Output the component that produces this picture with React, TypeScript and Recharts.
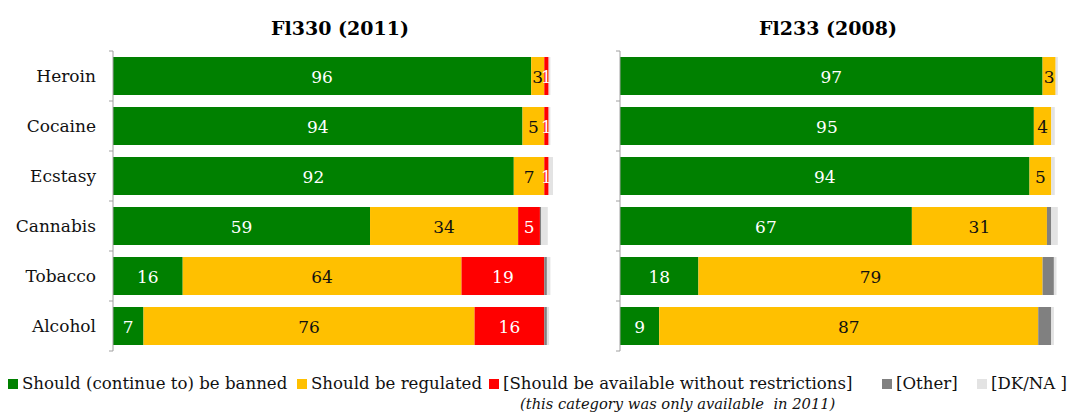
import React from 'react'
import { BarChart, Bar, XAxis, YAxis, LabelList } from 'recharts'

const categories = ['Heroin', 'Cocaine', 'Ecstasy', 'Cannabis', 'Tobacco', 'Alcohol']

const banned2011 = [96, 94, 92, 59, 16, 7]
const regulated2011 = [3, 5, 7, 34, 64, 76]
const unrestricted2011 = [1, 1, 1, 5, 19, 16]
const other2011 = [0, 0, 0, 0.3, 0.6, 0.6]
const dkna2011 = [0.4, 0.4, 1, 1.5, 0.8, 0.5]

const banned2008 = [97, 95, 94, 67, 18, 9]
const regulated2008 = [3, 4, 5, 31, 79, 87]
const unrestricted2008 = [0, 0, 0, 0, 0, 0]
const other2008 = [0, 0, 0, 1, 2.6, 3]
const dkna2008 = [0.5, 0.8, 0.8, 1.5, 0.6, 0.6]

const FONT = '"DejaVu Serif", Georgia, serif'
const GREEN = '#008000'
const YELLOW = '#FFC000'
const RED = '#FF0000'
const GREY = '#808080'
const LIGHT = '#E3E3E3'
const AXIS = '#A0A0A0'

const build = (b: number[], r: number[], u: number[], o: number[], d: number[]) =>
  categories.map((name, i) => ({ name, banned: b[i], regulated: r[i], unrestricted: u[i], other: o[i], dkna: d[i] }))

const data2011 = build(banned2011, regulated2011, unrestricted2011, other2011, dkna2011)
const data2008 = build(banned2008, regulated2008, unrestricted2008, other2008, dkna2008)

const valueLabel = (color: string) => (props: any) => {
  const { x, y, width, height, value } = props
  if (!value || value < 1) return null
  return (
    <text x={x + width / 2} y={y + height / 2 + 1} fill={color} fontFamily={FONT} fontSize={17}
      textAnchor="middle" dominantBaseline="central">{value}</text>
  )
}

const makeTick = (showLabel: boolean) => (props: any) => {
  const { x, y, payload, index } = props
  const half = 25
  return (
    <g>
      <line x1={x - 4} x2={x} y1={y - half} y2={y - half} stroke={AXIS} />
      {index === categories.length - 1 && <line x1={x - 4} x2={x} y1={y + half} y2={y + half} stroke={AXIS} />}
      {showLabel && (
        <text x={x - 17} y={y} textAnchor="end" dominantBaseline="central" fontFamily={FONT} fontSize={17} fill="#111">
          {payload.value}
        </text>
      )}
    </g>
  )
}

function Panel({ data, left, width, axisWidth, showLabels }: any) {
  return (
    <div style={{ position: 'absolute', left, top: 0 }}>
      <BarChart layout="vertical" width={width} height={416} data={data} barSize={38}
        margin={{ top: 51, right: width - axisWidth - 440, bottom: 65, left: 0 }}>
        <XAxis type="number" domain={[0, 101]} hide allowDataOverflow />
        <YAxis type="category" dataKey="name" width={axisWidth} tickSize={0} tickMargin={0}
          axisLine={{ stroke: AXIS }} tickLine={false} tick={makeTick(showLabels)} />
        <Bar dataKey="banned" stackId="a" fill={GREEN} isAnimationActive={false}>
          <LabelList dataKey="banned" content={valueLabel('#fff')} />
        </Bar>
        <Bar dataKey="regulated" stackId="a" fill={YELLOW} isAnimationActive={false}>
          <LabelList dataKey="regulated" content={valueLabel('#111')} />
        </Bar>
        <Bar dataKey="unrestricted" stackId="a" fill={RED} isAnimationActive={false}>
          <LabelList dataKey="unrestricted" content={valueLabel('#fff')} />
        </Bar>
        <Bar dataKey="other" stackId="a" fill={GREY} isAnimationActive={false} />
        <Bar dataKey="dkna" stackId="a" fill={LIGHT} isAnimationActive={false} />
      </BarChart>
    </div>
  )
}

const legendItems = [
  { label: 'Should (continue to) be banned', color: GREEN, x: 8 },
  { label: 'Should be regulated', color: YELLOW, x: 297 },
  { label: '[Should be available without restrictions]', color: RED, x: 489 },
  { label: '[Other]', color: GREY, x: 882 },
  { label: '[DK/NA ]', color: LIGHT, x: 977 },
]

export default function App() {
  return (
    <div style={{ position: 'absolute', left: 0, top: 0, width: 1077, height: 416, background: '#fff', fontFamily: FONT }}>
      <Panel data={data2011} left={0} width={565} axisWidth={113} showLabels />
      <Panel data={data2008} left={560} width={517} axisWidth={60} showLabels={false} />
      <div style={{ position: 'absolute', left: 340, top: 17, transform: 'translateX(-50%)', fontWeight: 'bold', fontSize: 19, whiteSpace: 'nowrap' }}>
        Fl330 (2011)
      </div>
      <div style={{ position: 'absolute', left: 828, top: 17, transform: 'translateX(-50%)', fontWeight: 'bold', fontSize: 19, whiteSpace: 'nowrap' }}>
        Fl233 (2008)
      </div>
      {legendItems.map((it) => (
        <div key={it.label} style={{ position: 'absolute', left: it.x, top: 374, display: 'flex', alignItems: 'center', whiteSpace: 'nowrap', fontSize: 16.6, color: '#111' }}>
          <span style={{ display: 'inline-block', width: 10, height: 10, background: it.color, marginRight: 4 }} />
          {it.label}
        </div>
      ))}
      <div style={{ position: 'absolute', left: 520, top: 395, fontStyle: 'italic', fontSize: 14.7, whiteSpace: 'nowrap', color: '#111' }}>
        (this category was only available&nbsp; in 2011)
      </div>
    </div>
  )
}
